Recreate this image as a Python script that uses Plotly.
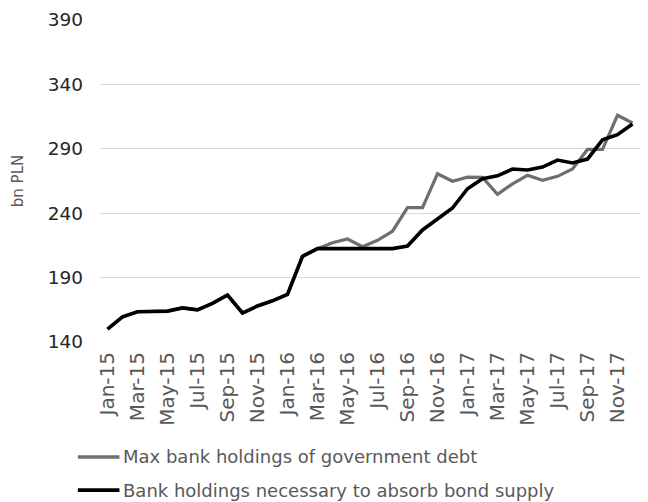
import plotly.graph_objects as go

# Monthly observations, Jan-15 .. Dec-17
months = [
    "Jan-15", "Feb-15", "Mar-15", "Apr-15", "May-15", "Jun-15",
    "Jul-15", "Aug-15", "Sep-15", "Oct-15", "Nov-15", "Dec-15",
    "Jan-16", "Feb-16", "Mar-16", "Apr-16", "May-16", "Jun-16",
    "Jul-16", "Aug-16", "Sep-16", "Oct-16", "Nov-16", "Dec-16",
    "Jan-17", "Feb-17", "Mar-17", "Apr-17", "May-17", "Jun-17",
    "Jul-17", "Aug-17", "Sep-17", "Oct-17", "Nov-17", "Dec-17",
]

# bn PLN
max_holdings = [
    150, 159.5, 163.5, 163.5, 164, 166.5, 165, 170, 176.5, 162.5, 168, 172,
    177, 206.5, 212.5, 217, 220, 214, 219, 226, 244.3, 244.3, 270.6, 264.8,
    268, 267.8, 254.7, 262.8, 269.4, 265.5, 268.6, 274.3, 289.5, 289.5, 316, 310,
]
needed_holdings = [
    150, 159.5, 163.5, 163.5, 164, 166.5, 165, 170, 176.5, 162.5, 168, 172,
    177, 206.5, 212.5, 212.5, 212.5, 212.5, 212.5, 212.5, 214.5, 227, 235.5, 244,
    259, 266.8, 269, 274.3, 273.5, 275.8, 281.3, 279, 282, 297, 301, 309.3,
]

series_names = [
    "Max bank holdings of government debt",
    "Bank holdings necessary to absorb bond supply",
]
series_colors = ["#6f6f6f", "#000000"]
series_widths = [3.2, 3.6]

y_ticks = [140, 190, 240, 290, 340, 390]
x_ticks = months[::2]

FONT = "DejaVu Sans"

fig = go.Figure()
for name, vals, color, w in zip(series_names, [max_holdings, needed_holdings],
                                series_colors, series_widths):
    fig.add_trace(go.Scatter(
        x=months, y=vals, mode="lines", name=name,
        line=dict(color=color, width=w),
        showlegend=False,
    ))

# Legend below the chart: a short line sample followed by the series name
legend_rows = [-0.357, -0.46]
for name, color, yrow in zip(series_names, series_colors, legend_rows):
    fig.add_shape(
        type="line", xref="paper", yref="paper",
        x0=-0.041, x1=0.036, y0=yrow, y1=yrow,
        line=dict(color=color, width=3.6),
    )
    fig.add_annotation(
        xref="paper", yref="paper", x=0.039, y=yrow,
        xanchor="left", yanchor="middle", showarrow=False,
        text=name, font=dict(family=FONT, size=18, color="#595959"),
    )

fig.update_layout(
    width=648, height=502,
    margin=dict(l=100, r=8, t=20, b=160),
    paper_bgcolor="white", plot_bgcolor="white",
    font=dict(family=FONT, color="#595959"),
    showlegend=False,
)

fig.update_xaxes(
    type="category",
    categoryorder="array", categoryarray=months,
    range=[-0.5, len(months) - 0.5],
    tickmode="array", tickvals=x_ticks, ticktext=x_ticks,
    tickangle=-90,
    tickfont=dict(family=FONT, size=20, color="#595959"),
    ticklabelstandoff=5,
    showgrid=False, showline=False, zeroline=False, ticks="",
)
fig.update_yaxes(
    range=[140, 390],
    tickmode="array", tickvals=y_ticks,
    tickfont=dict(family=FONT, size=18.5, color="#262626"),
    ticklabelstandoff=16,
    showgrid=True, gridcolor="#d9d9d9", gridwidth=1,
    zeroline=False, showline=False, ticks="",
    title=dict(text="bn PLN", font=dict(family=FONT, size=15, color="#595959"),
               standoff=20),
)

fig.write_html("out.html")
